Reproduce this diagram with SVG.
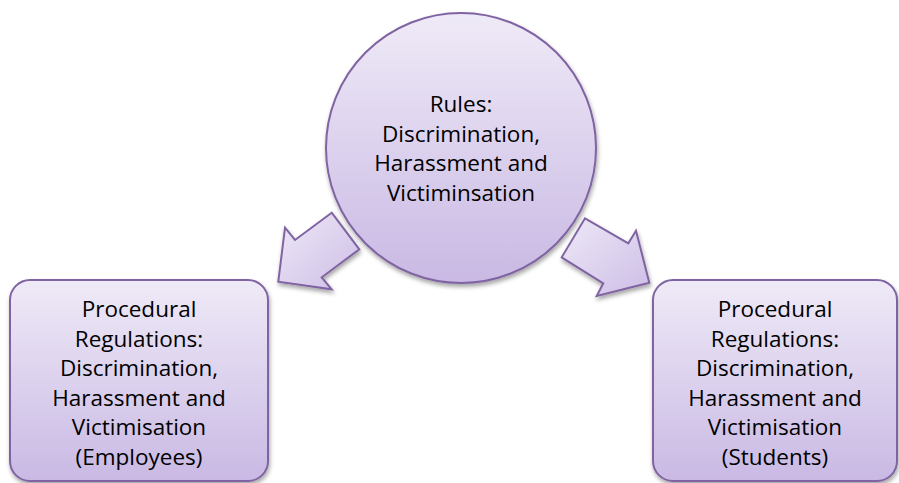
<svg xmlns="http://www.w3.org/2000/svg" width="899" height="483" viewBox="0 0 899 483">
  <style>
    .shape { fill: url(#lilac); stroke: #8064a2; stroke-width: 2; filter: url(#shadow); }
    .arrow { fill: url(#lilacArrow); stroke: #8064a2; stroke-width: 2; stroke-linejoin: miter; filter: url(#shadow); }
    .label { font-family: "Open Sans", "Liberation Sans", sans-serif; font-size: 22.5px; fill: #000; text-anchor: middle; }
  </style>
  <defs>
    <linearGradient id="lilac" x1="0" y1="0" x2="0" y2="1">
      <stop offset="0" stop-color="#efeaf7"/>
      <stop offset="1" stop-color="#c9b9e4"/>
    </linearGradient>
    <linearGradient id="lilacArrow" x1="0" y1="0" x2="1" y2="1">
      <stop offset="0" stop-color="#eee9f7"/>
      <stop offset="1" stop-color="#cdbde6"/>
    </linearGradient>
    <filter id="shadow" x="-10%" y="-10%" width="125%" height="130%">
      <feDropShadow dx="1" dy="3" stdDeviation="2.2" flood-color="#000" flood-opacity="0.35"/>
    </filter>
  </defs>

  <!-- connectors: block arrows from the rules circle to each regulation box -->
  <g id="connectors">
    <polygon class="arrow" points="331.7,212.7 295,240 285,227.7 278.3,281.7 331.7,289.3 321.7,277.3 359.3,249.3"/>
    <polygon class="arrow" points="585,218.3 628.3,243.3 636,230.7 649.3,282.7 596.7,296 603.3,283.3 561.7,257.3"/>
  </g>

  <!-- central rules node -->
  <g id="rules">
    <circle class="shape" cx="461" cy="148" r="135"/>
    <text class="label" x="461" y="112">Rules:</text>
    <text class="label" x="461" y="141.5">Discrimination,</text>
    <text class="label" x="461" y="171">Harassment and</text>
    <text class="label" x="461" y="200.5">Victiminsation</text>
  </g>

  <!-- employees regulations node -->
  <g id="employees">
    <rect class="shape" x="10" y="280" width="258" height="201" rx="20" ry="20"/>
    <text class="label" x="139" y="317">Procedural</text>
    <text class="label" x="139" y="346.5">Regulations:</text>
    <text class="label" x="139" y="376">Discrimination,</text>
    <text class="label" x="139" y="405.5">Harassment and</text>
    <text class="label" x="139" y="435">Victimisation</text>
    <text class="label" x="139" y="464.5">(Employees)</text>
  </g>

  <!-- students regulations node -->
  <g id="students">
    <rect class="shape" x="653" y="280" width="244" height="201" rx="20" ry="20"/>
    <text class="label" x="775" y="317">Procedural</text>
    <text class="label" x="775" y="346.5">Regulations:</text>
    <text class="label" x="775" y="376">Discrimination,</text>
    <text class="label" x="775" y="405.5">Harassment and</text>
    <text class="label" x="775" y="435">Victimisation</text>
    <text class="label" x="775" y="464.5">(Students)</text>
  </g>
</svg>
